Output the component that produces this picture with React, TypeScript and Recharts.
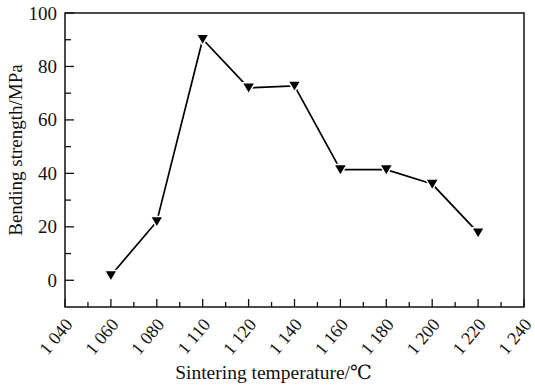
import { LineChart, Line, XAxis, YAxis, ReferenceArea, Label } from "recharts";

const temperatures = [1060, 1080, 1100, 1120, 1140, 1160, 1180, 1200, 1220];
const strength = [1.8, 22, 90.2, 72, 72.7, 41.4, 41.4, 36, 17.8];

const xTicks = [1040, 1050, 1060, 1070, 1080, 1090, 1100, 1110, 1120, 1130, 1140, 1150, 1160, 1170, 1180, 1190, 1200, 1210, 1220, 1230, 1240];
const xTickLabels: Record<number, string> = {
  1040: "1 040",
  1060: "1 060",
  1080: "1 080",
  1100: "1 110",
  1120: "1 120",
  1140: "1 140",
  1160: "1 160",
  1180: "1 180",
  1200: "1 200",
  1220: "1 220",
  1240: "1 240",
};
const yTicks = [0, 10, 20, 30, 40, 50, 60, 70, 80, 90, 100];
const yTickLabels: Record<number, string> = { 0: "0", 20: "20", 40: "40", 60: "60", 80: "80", 100: "100" };

const data = temperatures.map((t, i) => ({ t, s: strength[i] }));

const FONT = "Liberation Serif, DejaVu Serif, serif";

const XTick = (props: any) => {
  const { x, y, payload } = props;
  const label = xTickLabels[payload.value];
  const major = label !== undefined;
  const ax = x + 4;
  const ay = y + 14;
  return (
    <g>
      <line x1={x} y1={y} x2={x} y2={y - (major ? 8 : 5)} stroke="#111" strokeWidth={1.3} />
      {major && (
        <text
          x={ax}
          y={ay}
          textAnchor="end"
          dominantBaseline="central"
          transform={`rotate(-50 ${ax} ${ay})`}
          style={{ fontFamily: FONT, fontSize: 18 }}
          fill="#111"
        >
          {label}
        </text>
      )}
    </g>
  );
};

const YTick = (props: any) => {
  const { x, y, payload } = props;
  const label = yTickLabels[payload.value];
  const major = label !== undefined;
  return (
    <g>
      <line x1={x} y1={y} x2={x + (major ? 9 : 6)} y2={y} stroke="#111" strokeWidth={1.3} />
      {major && (
        <text x={x - 8} y={y} textAnchor="end" dominantBaseline="central" style={{ fontFamily: FONT, fontSize: 19 }} fill="#111">
          {label}
        </text>
      )}
    </g>
  );
};

const Triangle = (props: any) => {
  const { cx, cy } = props;
  if (cx == null || cy == null) return null;
  return (
    <polygon
      points={`${cx - 6.5},${cy - 5} ${cx + 6.5},${cy - 5} ${cx},${cy + 6}`}
      fill="#000"
      stroke="#fff"
      strokeWidth={1.5}
      strokeLinejoin="miter"
    />
  );
};

export default function App() {
  return (
    <div style={{ position: "absolute", left: 0, top: 0, background: "#fff" }}>
      <LineChart width={535} height={391} data={data} margin={{ top: 13, right: 11, bottom: 0, left: 0 }}>
        <XAxis
          dataKey="t"
          type="number"
          domain={[1040, 1240]}
          ticks={xTicks}
          interval={0}
          height={84}
          tickSize={0}
          tickMargin={0}
          tickLine={false}
          axisLine={false}
          tick={<XTick />}
        >
          <Label
            content={(p: any) => {
              const vb = p.viewBox;
              return (
                <text x={vb.x + vb.width / 2 - 21} y={vb.y + 72} textAnchor="middle" style={{ fontFamily: FONT, fontSize: 19.5 }} fill="#111">
                  Sintering temperature/℃
                </text>
              );
            }}
          />
        </XAxis>
        <YAxis
          type="number"
          domain={[-10, 100]}
          ticks={yTicks}
          interval={0}
          width={65}
          tickSize={0}
          tickMargin={0}
          tickLine={false}
          axisLine={false}
          tick={<YTick />}
        >
          <Label
            content={(p: any) => {
              const vb = p.viewBox;
              const cx = 15;
              const cy = vb.y + vb.height / 2 - 10;
              return (
                <text
                  x={cx}
                  y={cy}
                  textAnchor="middle"
                  dominantBaseline="central"
                  transform={`rotate(-90 ${cx} ${cy})`}
                  style={{ fontFamily: FONT, fontSize: 19 }}
                  fill="#111"
                >
                  Bending strength/MPa
                </text>
              );
            }}
          />
        </YAxis>
        <ReferenceArea x1={1040} x2={1240} y1={-10} y2={100} fill="none" stroke="#111" strokeWidth={1.5} ifOverflow="visible" />
        <Line
          dataKey="s"
          type="linear"
          stroke="#000"
          strokeWidth={1.7}
          dot={<Triangle />}
          activeDot={false}
          isAnimationActive={false}
        />
      </LineChart>
    </div>
  );
}
